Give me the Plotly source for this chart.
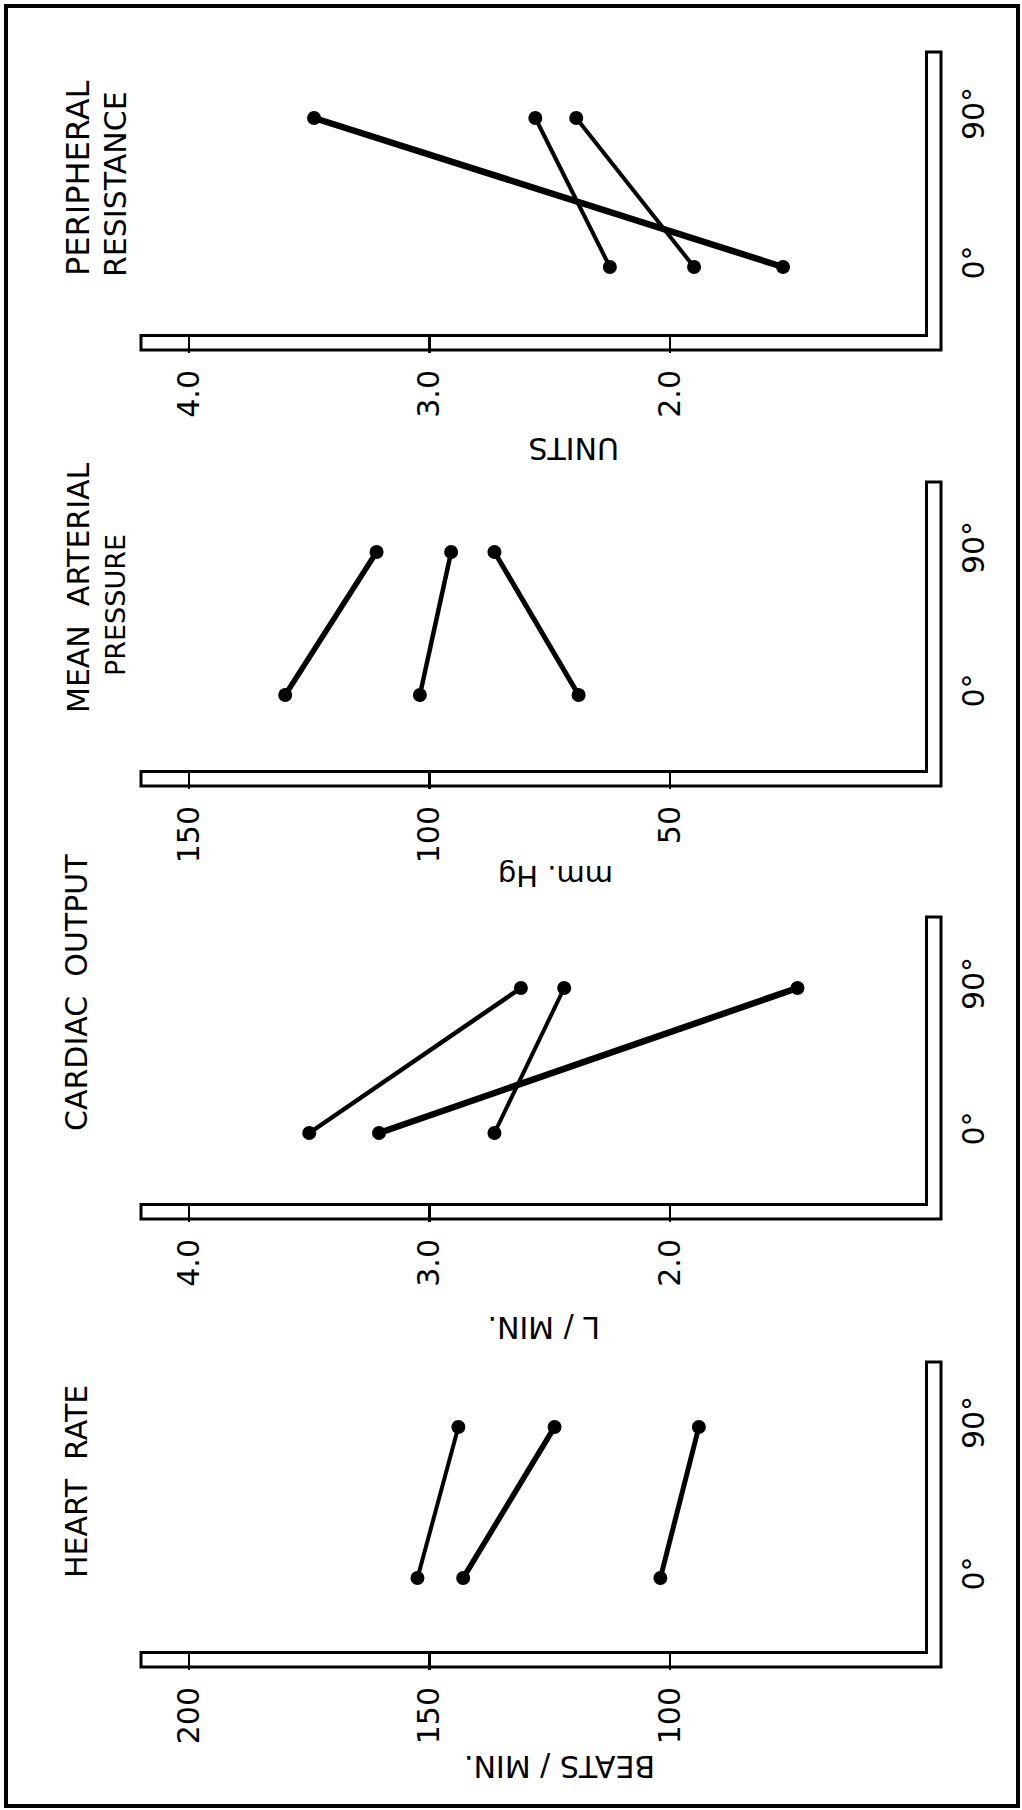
import plotly.graph_objects as go

# ---------------- data ----------------
conditions = ["0°", "90°"]
cond_pos = [0, 1]

# Peripheral resistance (units)
pr_a = [1.53, 3.48]
pr_b = [2.25, 2.56]
pr_c = [1.90, 2.39]
pr_ticks = [4.0, 3.0, 2.0]
pr_ticktext = ["4.0", "3.0", "2.0"]

# Mean arterial pressure (mm. Hg)
map_a = [130, 111]
map_b = [102, 95.5]
map_c = [69, 86.5]
map_ticks = [150, 100, 50]
map_ticktext = ["150", "100", "50"]

# Cardiac output (L / min.)
co_a = [3.50, 2.62]
co_b = [3.21, 1.47]
co_c = [2.73, 2.44]
co_ticks = [4.0, 3.0, 2.0]
co_ticktext = ["4.0", "3.0", "2.0"]

# Heart rate (beats / min.)
hr_a = [152.5, 144]
hr_b = [143, 124]
hr_c = [102, 94]
hr_ticks = [200, 150, 100]
hr_ticktext = ["200", "150", "100"]

# ---------------- layout helpers ----------------
W, H = 1022, 1810
FONT = "DejaVu Sans"
X_LEFT, X_RIGHT = 141, 925      # plot area (pixels)
BAR_W = 16                      # width of the hollow axis bars
TICK1_PX, TICK3_PX = 189, 670   # pixel position of first/third tick

def fx(px):
    return px / W

def fy(py):
    return 1 - py / H

panels = [
    dict(name="pr", series=[pr_a, pr_b, pr_c], widths=[6.5, 4, 4],
         ticks=pr_ticks, ticktext=pr_ticktext, top=52, bot=334, p0=67, p90=216,
         titles=[("PERIPHERAL", 78, 178, 32), ("RESISTANCE", 115, 184, 30)],
         unit=("UNITS", 574, 449, 30)),
    dict(name="map", series=[map_a, map_b, map_c], widths=[5.5, 4.5, 5],
         ticks=map_ticks, ticktext=map_ticktext, top=482, bot=770, p0=75, p90=218,
         titles=[("MEAN&nbsp; ARTERIAL", 79, 588, 30), ("PRESSURE", 115, 605, 27)],
         unit=("mm. Hg", 556, 876, 29)),
    dict(name="co", series=[co_a, co_b, co_c], widths=[4.5, 6.5, 4],
         ticks=co_ticks, ticktext=co_ticktext, top=917, bot=1203, p0=70, p90=215,
         titles=[("CARDIAC&nbsp; OUTPUT", 77, 993, 30)],
         unit=("L / MIN.", 544, 1328, 30)),
    dict(name="hr", series=[hr_a, hr_b, hr_c], widths=[4, 5.5, 5],
         ticks=hr_ticks, ticktext=hr_ticktext, top=1362, bot=1651, p0=73, p90=224,
         titles=[("HEART&nbsp; RATE", 76, 1482, 30)],
         unit=("BEATS / MIN.", 560, 1767, 30)),
]

fig = go.Figure()
layout = dict(
    width=W, height=H,
    margin=dict(l=0, r=0, t=0, b=0),
    paper_bgcolor="white", plot_bgcolor="white",
    showlegend=False,
    font=dict(family=FONT, color="black"),
)
shapes = []
annotations = []

for i, p in enumerate(panels, start=1):
    xa = "x" if i == 1 else f"x{i}"
    ya = "y" if i == 1 else f"y{i}"
    # value axis (horizontal, decreasing to the right)
    v1, v3 = p["ticks"][0], p["ticks"][-1]
    s = (TICK3_PX - TICK1_PX) / (v1 - v3)   # pixels per unit
    left_val = v1 + (TICK1_PX - X_LEFT) / s
    right_val = v1 - (X_RIGHT - TICK1_PX) / s
    # condition axis (vertical)
    hpx = p["bot"] - p["top"]
    unit_px = p["p90"] - p["p0"]
    y_lo = -p["p0"] / unit_px
    y_hi = (hpx - p["p0"]) / unit_px

    for vals, lw in zip(p["series"], p["widths"]):
        fig.add_trace(go.Scatter(
            x=vals, y=cond_pos, xaxis=xa, yaxis=ya,
            mode="lines+markers",
            line=dict(color="black", width=lw),
            marker=dict(color="black", size=14),
            hoverinfo="skip",
        ))

    layout["xaxis" if i == 1 else f"xaxis{i}"] = dict(
        domain=[fx(X_LEFT), fx(X_RIGHT)], anchor=ya,
        range=[left_val, right_val],
        tickmode="array", tickvals=p["ticks"], ticktext=p["ticktext"],
        ticks="outside", ticklen=BAR_W, tickwidth=2.5, tickcolor="black",
        showline=True, linewidth=3, linecolor="black",
        showgrid=False, zeroline=False, tickangle=-90,
        tickfont=dict(family=FONT, size=30, color="black"),
        ticklabelstandoff=5, fixedrange=True,
    )
    layout["yaxis" if i == 1 else f"yaxis{i}"] = dict(
        domain=[fy(p["bot"]), fy(p["top"])], anchor=xa, side="right",
        range=[y_lo, y_hi],
        tickmode="array", tickvals=cond_pos, ticktext=conditions,
        ticks="", showline=True, linewidth=3, linecolor="black",
        showgrid=False, zeroline=False, tickangle=-90,
        tickfont=dict(family=FONT, size=30, color="black"),
        ticklabelstandoff=20, fixedrange=True,
    )

    # outer outline of the L-shaped hollow axis bar
    b2 = p["bot"] + BAR_W
    r2 = X_RIGHT + BAR_W
    path = (f"M {fx(X_LEFT)},{fy(p['bot'])} L {fx(X_LEFT)},{fy(b2)} "
            f"L {fx(r2)},{fy(b2)} L {fx(r2)},{fy(p['top'])} L {fx(X_RIGHT)},{fy(p['top'])}")
    shapes.append(dict(type="path", xref="paper", yref="paper", path=path,
                       line=dict(color="black", width=3)))

    for text, cx, cy, fs in p["titles"]:
        annotations.append(dict(text=text, x=fx(cx), y=fy(cy), xref="paper", yref="paper",
                                xanchor="center", yanchor="middle", showarrow=False,
                                textangle=-90, font=dict(family=FONT, size=fs, color="black")))
    text, cx, cy, fs = p["unit"]
    annotations.append(dict(text=text, x=fx(cx), y=fy(cy), xref="paper", yref="paper",
                            xanchor="center", yanchor="middle", showarrow=False,
                            textangle=180, font=dict(family=FONT, size=fs, color="black")))

# frame around the whole figure
shapes.append(dict(type="rect", xref="paper", yref="paper",
                   x0=fx(6), x1=fx(1018), y0=fy(1806), y1=fy(6),
                   line=dict(color="black", width=4)))

layout["shapes"] = shapes
layout["annotations"] = annotations
fig.update_layout(**layout)
fig.write_html("out.html",
               config={"displayModeBar": False, "staticPlot": True},
               post_script="document.body.style.margin='0';document.body.style.overflow='hidden';")
